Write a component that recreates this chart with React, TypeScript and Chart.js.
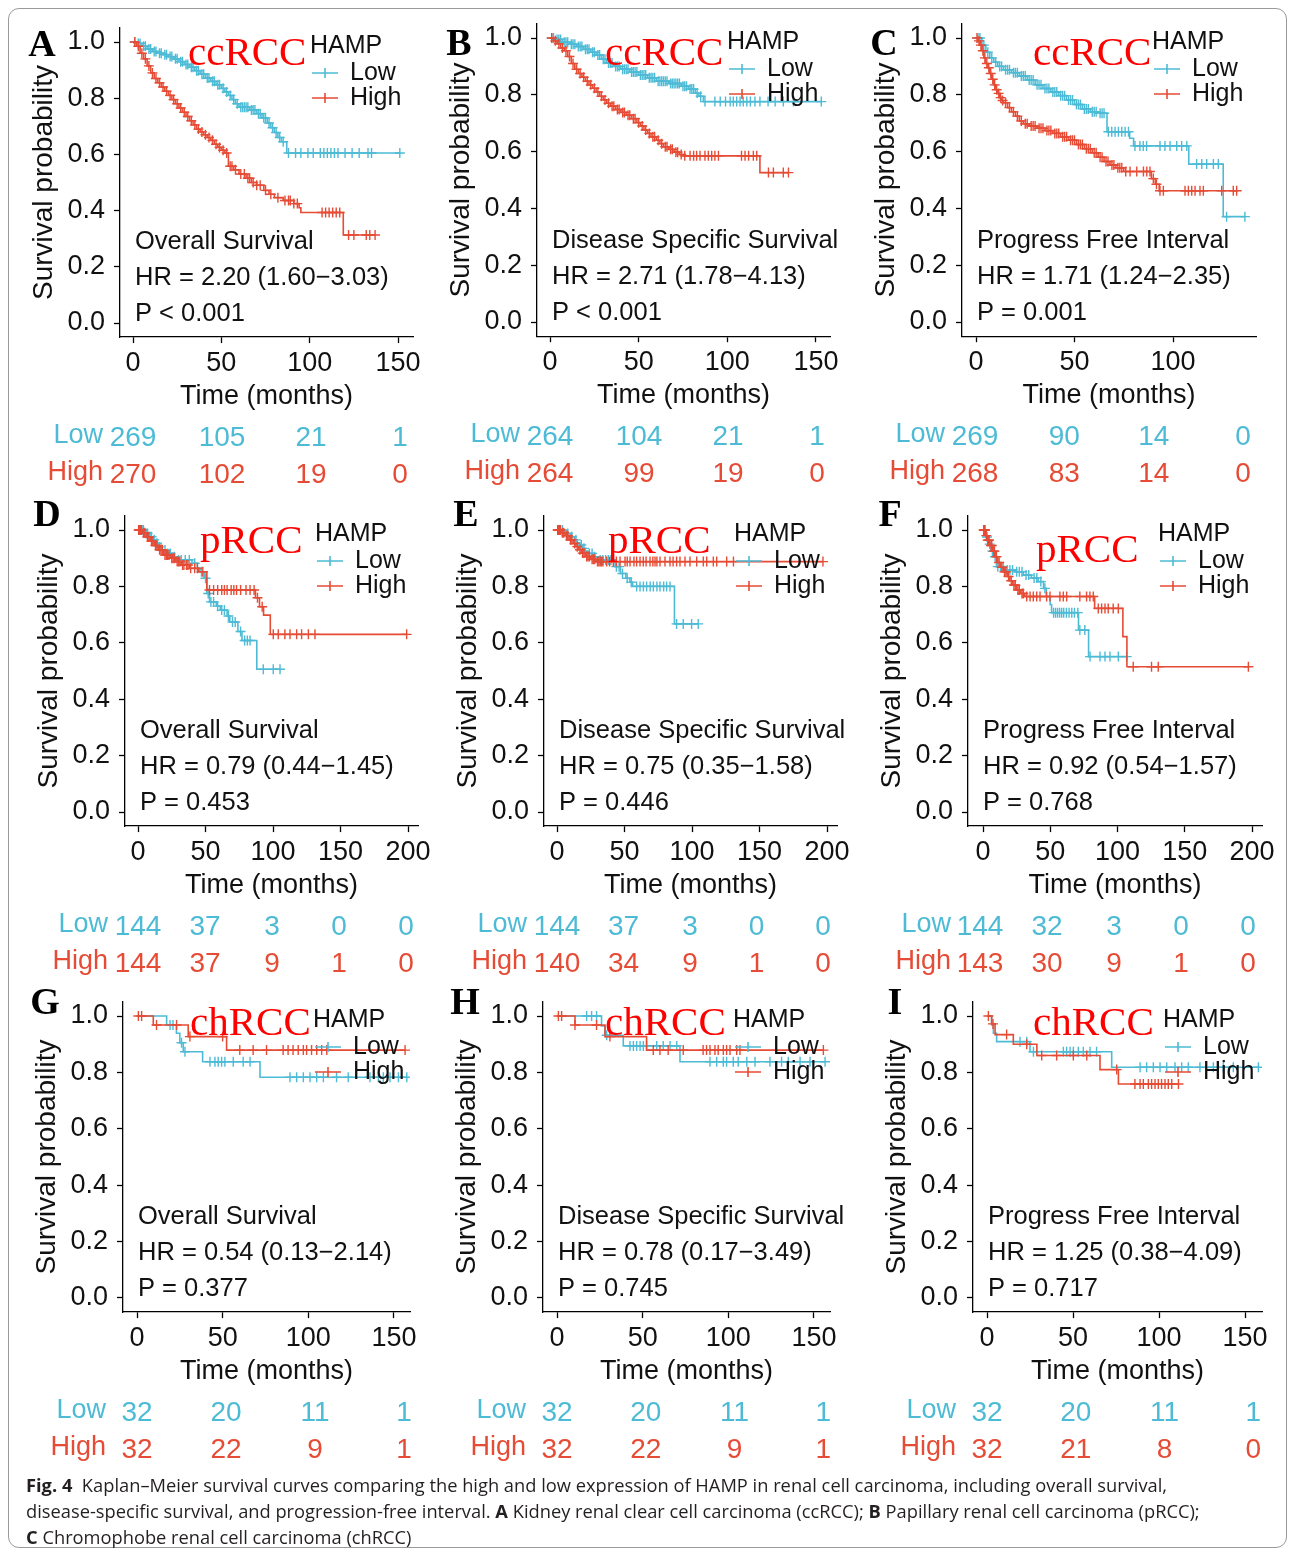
import React, { useEffect, useRef } from "react";
import { Chart, registerables } from "chart.js";

Chart.register(...registerables);

type Pair = [number, number];

// ---------------- colours & fonts ----------------
const LOW_COLOR = "#4DBBD5";
const HIGH_COLOR = "#E64B35";
const TAG_COLOR = "#FF0000";
const INK = "#111111";
const SANS = '"Liberation Sans", Arial, Helvetica, sans-serif';
const SERIF = '"Liberation Serif", "Times New Roman", Times, serif';

// ---------------- shared labels ----------------
const LEGEND_TITLE = "HAMP";
const GROUP_LABELS = ["Low", "High"];
const Y_TITLE = "Survival probability";
const X_TITLE = "Time (months)";
const Y_TICKS = [0, 0.2, 0.4, 0.6, 0.8, 1.0];
const X_TICKS_150 = [0, 50, 100, 150];
const X_TICKS_100 = [0, 50, 100];
const X_TICKS_200 = [0, 50, 100, 150, 200];
const RISK_TIMES_4 = [0, 50, 100, 150];
const RISK_TIMES_5 = [0, 50, 100, 150, 200];

const PANEL_LETTERS = ["A", "B", "C", "D", "E", "F", "G", "H", "I"];
const SUBTYPES = ["ccRCC", "ccRCC", "ccRCC", "pRCC", "pRCC", "pRCC", "chRCC", "chRCC", "chRCC"];
const ENDPOINTS = [
  "Overall Survival", "Disease Specific Survival", "Progress Free Interval",
  "Overall Survival", "Disease Specific Survival", "Progress Free Interval",
  "Overall Survival", "Disease Specific Survival", "Progress Free Interval",
];
const HR_LABELS = [
  "HR = 2.20 (1.60\u22123.03)", "HR = 2.71 (1.78\u22124.13)", "HR = 1.71 (1.24\u22122.35)",
  "HR = 0.79 (0.44\u22121.45)", "HR = 0.75 (0.35\u22121.58)", "HR = 0.92 (0.54\u22121.57)",
  "HR = 0.54 (0.13\u22122.14)", "HR = 0.78 (0.17\u22123.49)", "HR = 1.25 (0.38\u22124.09)",
];
const P_LABELS = [
  "P < 0.001", "P < 0.001", "P = 0.001",
  "P = 0.453", "P = 0.446", "P = 0.768",
  "P = 0.377", "P = 0.745", "P = 0.717",
];

// ---------------- numbers at risk ----------------
const RISK_LOW = [
  [269, 105, 21, 1], [264, 104, 21, 1], [269, 90, 14, 0],
  [144, 37, 3, 0, 0], [144, 37, 3, 0, 0], [144, 32, 3, 0, 0],
  [32, 20, 11, 1], [32, 20, 11, 1], [32, 20, 11, 1],
];
const RISK_HIGH = [
  [270, 102, 19, 0], [264, 99, 19, 0], [268, 83, 14, 0],
  [144, 37, 9, 1, 0], [140, 34, 9, 1, 0], [143, 30, 9, 1, 0],
  [32, 22, 9, 1], [32, 22, 9, 1], [32, 21, 8, 0],
];

// ---------------- KM curves: [time, survival after drop] ----------------
const A_LOW: Pair[] = [[2,0.995],[5,0.985],[8,0.975],[11,0.966],[14,0.96],[17,0.955],[20,0.948],[23,0.94],[26,0.93],[29,0.92],[32,0.91],[35,0.898],[38,0.885],[41,0.872],[44,0.86],[47,0.848],[50,0.835],[52,0.822],[54,0.81],[56,0.795],[58,0.78],[60,0.768],[66,0.758],[70,0.745],[73,0.73],[76,0.712],[78,0.695],[80,0.678],[82,0.66],[84,0.645],[87,0.605]];
const A_LOW_CENS = [1,3,4,6,7,9,10,12,13,15,16,18,19,21,22,24,25,27,28,30,31,33,34,36,37,39,40,42,43,45,46,48,49,51,53,55,57,59,61,62,63,64,65,67,68,69,71,72,74,75,77,79,81,83,85,88,92,95,99,102,106,108,110,112,114,116,120,124,128,133,135,151];
const A_HIGH: Pair[] = [[2,0.985],[4,0.96],[6,0.94],[8,0.915],[10,0.89],[12,0.87],[14,0.855],[16,0.84],[18,0.825],[20,0.81],[22,0.795],[24,0.78],[26,0.765],[28,0.75],[30,0.735],[32,0.72],[34,0.705],[36,0.69],[38,0.68],[40,0.67],[42,0.66],[44,0.65],[46,0.636],[48,0.625],[50,0.615],[52,0.605],[54,0.558],[57,0.545],[60,0.53],[64,0.515],[67,0.5],[70,0.49],[74,0.472],[77,0.458],[80,0.446],[85,0.436],[91,0.425],[94,0.41],[95,0.393],[119,0.313]];
const A_HIGH_CENS = [1,3,5,7,9,11,13,15,17,19,21,23,25,27,29,31,33,35,37,39,41,43,45,47,49,51,53,55,56,58,61,63,65,66,68,70,72,75,78,82,86,88,89,91,93,107,109,111,113,115,117,122,125,132,134,137];

const B_LOW: Pair[] = [[3,0.995],[7,0.985],[11,0.978],[15,0.97],[19,0.96],[23,0.95],[26,0.94],[29,0.925],[32,0.912],[36,0.9],[40,0.89],[45,0.88],[50,0.87],[55,0.86],[60,0.848],[67,0.84],[74,0.83],[78,0.82],[82,0.806],[84,0.795],[86.5,0.776]];
const B_LOW_CENS = [1,2,4,5,6,8,9,10,12,13,14,16,17,18,20,21,22,24,25,27,28,30,31,33,34,35,37,38,39,41,42,43,44,46,47,48,49,51,52,53,54,56,57,58,59,61,62,63,64,65,66,68,69,70,71,72,73,75,76,77,79,80,81,83,85,87.4,93,96,99,101.6,103.4,105.3,107.2,109,111,113,115.6,118.4,123,127,131.6,137.3,153];
const B_HIGH: Pair[] = [[2,0.99],[4,0.98],[6,0.965],[8,0.955],[10,0.935],[12,0.91],[14,0.89],[16,0.875],[18,0.862],[20,0.848],[22,0.835],[24,0.823],[26,0.81],[28,0.795],[30,0.782],[32,0.77],[34,0.76],[37,0.748],[40,0.738],[43,0.728],[46,0.716],[49,0.702],[51,0.69],[53,0.676],[55,0.664],[57,0.652],[60,0.64],[62,0.628],[64,0.617],[67,0.608],[70,0.598],[73,0.59],[75,0.585],[118.4,0.526]];
const B_HIGH_CENS = [1,3,5,7,9,11,13,15,17,19,21,23,25,27,29,31,33,35,36,38,39,41,42,44,45,47,48,50,52,54,56,58,59,61,63,65,66,68,69,71,72,74,76,79,81,82.7,84.6,87.4,89.3,91.2,93,95,108,110,112,114.7,116.6,123.2,126,131.6,134.5];

const C_LOW: Pair[] = [[3,0.975],[5,0.95],[7,0.93],[9,0.915],[11,0.9],[14,0.888],[18,0.878],[22,0.866],[26,0.852],[30,0.835],[34,0.822],[38,0.81],[42,0.797],[46,0.782],[50,0.766],[54,0.75],[58,0.74],[62,0.735],[66.5,0.67],[78,0.647],[80,0.62],[108,0.556],[125.5,0.371]];
const C_LOW_CENS = [1,2,4,6,8,10,12,13,15,16,17,19,20,21,23,24,25,27,28,29,31,32,33,35,36,37,39,40,41,43,44,45,47,48,49,51,52,53,55,56,57,59,60,61,63,64,65,67.2,68.9,70.6,72.3,74,75.7,77.4,80.7,83.2,84.9,86.6,93.4,95.9,98.5,101.9,104.4,107,112,114.6,117.1,120.5,123,127.2,136.5];
const C_HIGH: Pair[] = [[1,0.99],[2,0.975],[3,0.955],[4,0.93],[5,0.91],[6,0.895],[7,0.875],[8,0.855],[9,0.835],[10,0.818],[11,0.805],[12,0.79],[13,0.78],[14,0.772],[16,0.755],[18,0.74],[20,0.725],[22,0.708],[24,0.698],[27,0.69],[31,0.682],[35,0.674],[39,0.664],[43,0.652],[47,0.64],[51,0.625],[55,0.61],[59,0.596],[62,0.58],[65,0.565],[68,0.553],[71,0.543],[75,0.53],[89,0.505],[91,0.485],[93,0.462]];
const C_HIGH_CENS = [0.5,1.5,2.5,3.5,4.5,5.5,6.5,7.5,8.5,9.5,10.5,11.5,12.5,13.5,15,17,19,21,23,25,26,28,29,30,32,33,34,36,37,38,40,41,42,44,45,46,48,49,50,52,53,54,56,57,58,60,61,63,64,66,67,69,70,72,73,74,76,78.2,81.6,85,86.7,88.3,90,91.6,93.4,95.1,106.1,107.8,109.5,111.2,113.7,115.4,124.7,130.6,132.3];

const D_LOW: Pair[] = [[5,0.988],[8,0.976],[11,0.965],[13,0.953],[15,0.94],[17,0.929],[21,0.917],[26,0.905],[29,0.894],[40,0.882],[44,0.865],[46,0.852],[49,0.829],[51,0.775],[53,0.745],[58,0.73],[61,0.716],[66,0.695],[68,0.674],[74,0.64],[77,0.608],[88,0.506]];
const D_LOW_CENS = [1,2,3,4,6,7,9,10,12,14,16,18,20,22,24,27,30,32,35,38,42,47,50,52,54,56,59,62,64,67,70,72,76,79,81,83,92.8,100.2,105.2];
const D_HIGH: Pair[] = [[3,0.99],[6,0.976],[9,0.96],[12,0.945],[15,0.93],[19,0.911],[24,0.9],[28,0.888],[32,0.876],[38,0.864],[45,0.852],[51,0.787],[87,0.76],[90,0.728],[93,0.698],[98,0.63]];
const D_HIGH_CENS = [0.5,1,1.5,2,2.5,4,5,7,8,10,11,13,14,16,17,18,20,21,22,23,25,26,27,29,30,31,33,34,36,37,39,42,44,48,53,56,59,62,64,66,69,71,73,76,80,83,86,88.5,92,100.2,103.9,108.8,112.6,117.5,121.2,126.2,131.1,199];

const E_LOW: Pair[] = [[6,0.988],[10,0.976],[13,0.965],[15,0.955],[17,0.947],[19,0.935],[21,0.925],[23,0.917],[27,0.905],[30,0.894],[43,0.87],[47,0.846],[51,0.829],[54,0.815],[56,0.8],[87,0.667]];
const E_LOW_CENS = [1,2,4,8,11,14,18,20,24,26,28,32,34,36,38,40,44,46,48.5,52,55,59,61.5,64,66.4,69,71.4,74,76.3,79,81.2,83.7,88.6,93.5,99.7,104.6];
const E_HIGH: Pair[] = [[3,0.99],[6,0.98],[9,0.965],[12,0.952],[14,0.941],[16,0.93],[18,0.918],[21,0.906],[25,0.896],[29,0.888]];
const E_HIGH_CENS = [0.5,1,1.5,2,2.5,4,5,7,8,10,11,13,15,17,19,20,22,23,24,26,27,28,30,31,32,33,34,36.8,39,41.7,44,46.7,50.4,52,54.1,57,59,61.5,63.9,66,68.9,71,72.6,74,76.3,80,83.7,86,88.6,91.1,94.8,98.5,103.5,108.4,110.9,115.8,118.3,125.7,130.7,197];

const F_LOW: Pair[] = [[2,0.975],[4,0.95],[6,0.925],[8,0.905],[10,0.87],[16,0.858],[24,0.852],[30,0.84],[36,0.83],[41,0.817],[45,0.793],[47,0.764],[50,0.735],[51,0.707],[71,0.645],[78.5,0.551]];
const F_LOW_CENS = [1,3,5,7,9,11,13,15,18,20,22,25,27,29,32,34,38,40,43,46,52.5,54,55.5,57,58.5,60,62,64,66,68,70.5,72,75.7,79.6,87,90.7,94.4,100.6,106.8];
const F_HIGH: Pair[] = [[2,0.98],[3,0.964],[5,0.945],[7,0.925],[9,0.905],[11,0.885],[13,0.868],[15,0.852],[18,0.835],[20,0.82],[22,0.805],[25,0.787],[28,0.775],[31,0.764],[83,0.722],[104,0.622],[107,0.515]];
const F_HIGH_CENS = [0.5,1,1.5,2.5,3.5,4,4.5,6,6.5,8,8.5,10,12,14,16,17,19,21,23,24,26,27,29,30,32.5,35,37.4,39.9,42.4,47.3,49.8,57.2,59.7,62.2,72,77,79.5,82,85.7,88.2,90.7,93.1,96.8,100.6,111.7,125.3,130.3,197.3];

const G_LOW: Pair[] = [[17.3,0.968],[23,0.939],[25,0.905],[27,0.873],[38.3,0.838],[71.8,0.783]];
const G_LOW_CENS = [19.3,21,26,28,42.6,45.5,47.4,49.4,51.3,56.2,62,66,89.3,93.2,97.1,101,104.9,108.8,116.5,123.3,136,140.9,143.8,147.7,152.6,157.5];
const G_HIGH: Pair[] = [[9.5,0.968],[29.9,0.927],[52.3,0.879]];
const G_HIGH_CENS = [0.8,2.7,11.4,23.1,30.9,50,60,67.8,75.6,85.3,88.2,91.1,94.1,97.1,99,101.9,104.9,107.8,110.8,156.5];

const H_LOW: Pair[] = [[26,0.965],[28,0.932],[38.7,0.894],[71.8,0.838]];
const H_LOW_CENS = [17.3,20.2,23.1,29,42.6,44.6,46.5,48.5,50.4,52.3,58.2,62,66,69.9,89.3,93.2,97.1,99,102.9,105.8,110.8,115.6,124.3,131.1,135,141.9,147.7,156.5];
const H_HIGH: Pair[] = [[10.5,0.968],[28,0.927],[52.3,0.879]];
const H_HIGH_CENS = [0.8,2.7,10.5,23.1,30.9,56.2,60.1,64.9,73.7,85.3,87.3,89.3,92.2,94.1,97.1,99,101,104.9,106.8,155.5];

const I_LOW: Pair[] = [[2.7,0.968],[3.7,0.939],[5.6,0.909],[25,0.873],[72.5,0.818]];
const I_LOW_CENS = [19.2,23.1,27,44.4,46.3,48.3,50.2,53.1,56,59.9,63.7,89,92.8,96.7,100.6,104.5,109.3,113.2,117,123.8,131.6,137.4,143.2,157.8];
const I_HIGH: Pair[] = [[2.7,0.972],[4.7,0.934],[15.3,0.9],[29,0.86],[65.7,0.81],[76.4,0.759]];
const I_HIGH_CENS = [0.8,3.5,11.4,23.1,31.8,40.5,50.2,58,75.4,86,89,90.9,93.8,95.7,97.7,99.6,101.5,103.5,105.4,107.4,111.3];

const CURVES_LOW = [A_LOW, B_LOW, C_LOW, D_LOW, E_LOW, F_LOW, G_LOW, H_LOW, I_LOW];
const CURVES_HIGH = [A_HIGH, B_HIGH, C_HIGH, D_HIGH, E_HIGH, F_HIGH, G_HIGH, H_HIGH, I_HIGH];
const CENS_LOW = [A_LOW_CENS, B_LOW_CENS, C_LOW_CENS, D_LOW_CENS, E_LOW_CENS, F_LOW_CENS, G_LOW_CENS, H_LOW_CENS, I_LOW_CENS];
const CENS_HIGH = [A_HIGH_CENS, B_HIGH_CENS, C_HIGH_CENS, D_HIGH_CENS, E_HIGH_CENS, F_HIGH_CENS, G_HIGH_CENS, H_HIGH_CENS, I_HIGH_CENS];
const X_TICKS = [X_TICKS_150, X_TICKS_150, X_TICKS_100, X_TICKS_200, X_TICKS_200, X_TICKS_200, X_TICKS_150, X_TICKS_150, X_TICKS_150];
const RISK_TIMES = [RISK_TIMES_4, RISK_TIMES_4, RISK_TIMES_4, RISK_TIMES_5, RISK_TIMES_5, RISK_TIMES_5, RISK_TIMES_4, RISK_TIMES_4, RISK_TIMES_4];

// ---------------- page layout (pixels on the page) ----------------
const LAYOUT = [
  { ax: 120, y1: 42, y0: 323, t0: 133, k: 1.767, right: 413, r0: 133, rk: 1.78, tagDx: 68, tagDy: 23, letterY: 56 },
  { ax: 537, y1: 38, y0: 322, t0: 550, k: 1.773, right: 830, r0: 550, rk: 1.78, tagDx: 68, tagDy: 27, letterY: 55 },
  { ax: 962, y1: 38, y0: 322, t0: 976, k: 1.97, right: 1256, r0: 975, rk: 1.787, tagDx: 71, tagDy: 27, letterY: 55 },
  { ax: 125, y1: 530, y0: 812, t0: 138, k: 1.35, right: 418, r0: 138, rk: 1.34, tagDx: 75, tagDy: 23, letterY: 526 },
  { ax: 544, y1: 530, y0: 812, t0: 557, k: 1.35, right: 837, r0: 557, rk: 1.33, tagDx: 64, tagDy: 23, letterY: 526 },
  { ax: 968, y1: 530, y0: 812, t0: 983, k: 1.345, right: 1262, r0: 980, rk: 1.34, tagDx: 68, tagDy: 32, letterY: 526 },
  { ax: 123, y1: 1016, y0: 1298, t0: 137, k: 1.713, right: 410, r0: 137, rk: 1.78, tagDx: 67, tagDy: 19, letterY: 1014 },
  { ax: 543, y1: 1016, y0: 1298, t0: 557, k: 1.713, right: 830, r0: 557, rk: 1.776, tagDx: 62, tagDy: 19, letterY: 1014 },
  { ax: 973, y1: 1016, y0: 1298, t0: 987, k: 1.72, right: 1262, r0: 987, rk: 1.775, tagDx: 60, tagDy: 19, letterY: 1014 },
];

function survivalAt(steps: Pair[], t: number): number {
  let s = 1;
  for (const [tt, ss] of steps) {
    if (tt <= t) s = ss;
    else break;
  }
  return s;
}

function curvePoints(steps: Pair[], cens: number[]) {
  const lastStep = steps[steps.length - 1];
  const end = Math.max(lastStep[0], ...cens);
  const pts = [{ x: 0, y: 1 }, ...steps.map(([x, y]) => ({ x, y }))];
  pts.push({ x: end, y: lastStep[1] });
  return pts;
}

function censorPoints(steps: Pair[], cens: number[]) {
  return cens.map((t) => ({ x: t, y: survivalAt(steps, t) }));
}

function KMPanel({ i }: { i: number }) {
  const ref = useRef<HTMLCanvasElement | null>(null);
  const g = LAYOUT[i];
  const cellL = g.ax - 112;
  const cellT = g.y1 - 52;
  const W = g.right + 25 - cellL;
  const H = g.y0 + 182 - cellT;

  useEffect(() => {
    const canvas = ref.current;
    if (!canvas) return;
    const span = g.y0 - g.y1;
    const topPx = g.y1 - 0.05 * span;
    const botPx = g.y0 + 0.05 * span;
    const YW = 100;
    const XH = 48;
    const padding = {
      left: g.ax - cellL - YW,
      top: topPx - cellT,
      right: cellL + W - g.right,
      bottom: H - XH - (botPx - cellT),
    };
    const xmin = (g.ax - g.t0) / g.k;
    const xmax = (g.right - g.t0) / g.k;
    const rmin = (g.ax - g.r0) / g.rk;
    const rmax = (g.right - g.r0) / g.rk;

    const X = (v: number) => v - cellL;
    const Y = (v: number) => v - cellT;

    const textPlugin = {
      id: "kmText",
      afterDraw(chart: any) {
        const ctx = chart.ctx as CanvasRenderingContext2D;
        ctx.save();
        ctx.fillStyle = "#000";
        ctx.textBaseline = "alphabetic";
        ctx.textAlign = "center";
        ctx.font = `bold 38px ${SERIF}`;
        ctx.fillText(PANEL_LETTERS[i], X(g.ax - 78), Y(g.letterY));
        ctx.fillStyle = TAG_COLOR;
        ctx.textAlign = "left";
        ctx.font = `41px ${SERIF}`;
        ctx.fillText(SUBTYPES[i], X(g.ax + g.tagDx), Y(g.y1 + g.tagDy));
        ctx.textBaseline = "middle";
        ctx.fillStyle = INK;
        ctx.font = `25px ${SANS}`;
        ctx.fillText(LEGEND_TITLE, X(g.ax + 190), Y(g.y1 + 4));
        [LOW_COLOR, HIGH_COLOR].forEach((c, j) => {
          const yy = Y(g.y1 + 31 + j * 25);
          ctx.strokeStyle = c;
          ctx.lineWidth = 1.6;
          ctx.beginPath();
          ctx.moveTo(X(g.ax + 192), yy);
          ctx.lineTo(X(g.ax + 218), yy);
          ctx.moveTo(X(g.ax + 205), yy - 5);
          ctx.lineTo(X(g.ax + 205), yy + 5);
          ctx.stroke();
          ctx.fillStyle = INK;
          ctx.fillText(GROUP_LABELS[j], X(g.ax + 230), yy);
        });
        ctx.font = `25.5px ${SANS}`;
        ctx.fillText(ENDPOINTS[i], X(g.ax + 15), Y(g.y0 - 81));
        ctx.fillText(HR_LABELS[i], X(g.ax + 15), Y(g.y0 - 45));
        ctx.fillText(P_LABELS[i], X(g.ax + 15), Y(g.y0 - 9));
        ctx.textAlign = "center";
        ctx.font = `28px ${SANS}`;
        ctx.save();
        ctx.translate(X(g.ax - 76), Y((g.y1 + g.y0) / 2));
        ctx.rotate(-Math.PI / 2);
        ctx.fillText(Y_TITLE, 0, 0);
        ctx.restore();
        ctx.font = `27px ${SANS}`;
        ctx.fillText(X_TITLE, X((g.ax + g.right) / 2), Y(g.y0 + 74));
        const xr = chart.scales.xr;
        const rows = [RISK_LOW[i], RISK_HIGH[i]];
        [LOW_COLOR, HIGH_COLOR].forEach((c, j) => {
          const yy = Y(g.y0 + 115 + j * 37);
          ctx.fillStyle = c;
          ctx.textAlign = "right";
          ctx.font = `27px ${SANS}`;
          ctx.fillText(GROUP_LABELS[j], X(g.ax - 17), yy - 2);
          ctx.textAlign = "center";
          ctx.font = `28px ${SANS}`;
          RISK_TIMES[i].forEach((t, m) => {
            ctx.fillText(String(rows[j][m]), xr.getPixelForValue(t), yy);
          });
        });
        ctx.restore();
      },
    };

    const axisLine = { display: true, color: "#000", width: 1.3 };
    const tickGrid = { display: true, drawOnChartArea: false, drawTicks: true, tickLength: 6, tickColor: "#000", tickWidth: 1.3 };

    const chart = new Chart(canvas, {
      type: "line",
      data: {
        datasets: [
          {
            label: "High censored",
            data: censorPoints(CURVES_HIGH[i], CENS_HIGH[i]),
            showLine: false,
            pointStyle: "cross",
            pointRadius: 5,
            pointHoverRadius: 5,
            pointBorderWidth: 1.4,
            pointBorderColor: HIGH_COLOR,
            borderColor: HIGH_COLOR,
          },
          {
            label: "High",
            data: curvePoints(CURVES_HIGH[i], CENS_HIGH[i]),
            stepped: "before",
            borderColor: HIGH_COLOR,
            borderWidth: 1.6,
            pointRadius: 0,
            fill: false,
          },
          {
            label: "Low censored",
            data: censorPoints(CURVES_LOW[i], CENS_LOW[i]),
            showLine: false,
            pointStyle: "cross",
            pointRadius: 5,
            pointHoverRadius: 5,
            pointBorderWidth: 1.4,
            pointBorderColor: LOW_COLOR,
            borderColor: LOW_COLOR,
          },
          {
            label: "Low",
            data: curvePoints(CURVES_LOW[i], CENS_LOW[i]),
            stepped: "before",
            borderColor: LOW_COLOR,
            borderWidth: 1.6,
            pointRadius: 0,
            fill: false,
          },
        ] as any,
      },
      options: {
        animation: false,
        responsive: false,
        devicePixelRatio: 1,
        events: [],
        layout: { padding },
        plugins: { legend: { display: false }, tooltip: { enabled: false }, title: { display: false } },
        scales: {
          x: {
            type: "linear",
            min: xmin,
            max: xmax,
            afterBuildTicks: (s: any) => { s.ticks = X_TICKS[i].map((v) => ({ value: v })); },
            afterFit: (s: any) => { s.height = XH; },
            ticks: { color: INK, font: { family: SANS, size: 27 }, padding: 4, maxRotation: 0, autoSkip: false },
            grid: tickGrid,
            border: axisLine,
          },
          xr: {
            type: "linear",
            axis: "x",
            display: false,
            min: rmin,
            max: rmax,
          },
          y: {
            type: "linear",
            min: -0.05,
            max: 1.05,
            afterBuildTicks: (s: any) => { s.ticks = Y_TICKS.map((v) => ({ value: v })); },
            afterFit: (s: any) => { s.width = YW; },
            ticks: { color: INK, font: { family: SANS, size: 27 }, padding: 9, callback: (v: any) => Number(v).toFixed(1) },
            grid: tickGrid,
            border: axisLine,
          },
        },
      } as any,
      plugins: [textPlugin],
    });
    return () => chart.destroy();
  }, [i]);

  return (
    <canvas
      ref={ref}
      width={W}
      height={H}
      style={{ position: "absolute", left: cellL - 8, top: cellT - 8, width: W, height: H }}
    />
  );
}

const CAPTION_FONT = '"Open Sans", "Noto Sans", sans-serif';

export default function App() {
  return (
    <div style={{ position: "relative", width: 1279, height: 1540, background: "#fff" }}>
      <div
        style={{
          position: "absolute", left: 0, top: 0, width: 1279, height: 1540,
          border: "1px solid #9a9a9a", borderRadius: 11, boxSizing: "border-box",
        }}
      />
      {LAYOUT.map((_, i) => (
        <KMPanel key={i} i={i} />
      ))}
      <div
        style={{
          position: "absolute", left: 18, top: 1464, fontFamily: CAPTION_FONT, fontSize: 18.3,
          lineHeight: "26px", color: "#231f20", whiteSpace: "pre",
        }}
      >
        <div><b>Fig. 4</b>{"  Kaplan\u2013Meier survival curves comparing the high and low expression of HAMP in renal cell carcinoma, including overall survival,"}</div>
        <div>{"disease-specific survival, and progression-free interval. "}<b>A</b>{" Kidney renal clear cell carcinoma (ccRCC); "}<b>B</b>{" Papillary renal cell carcinoma (pRCC);"}</div>
        <div><b>C</b>{" Chromophobe renal cell carcinoma (chRCC)"}</div>
      </div>
    </div>
  );
}
